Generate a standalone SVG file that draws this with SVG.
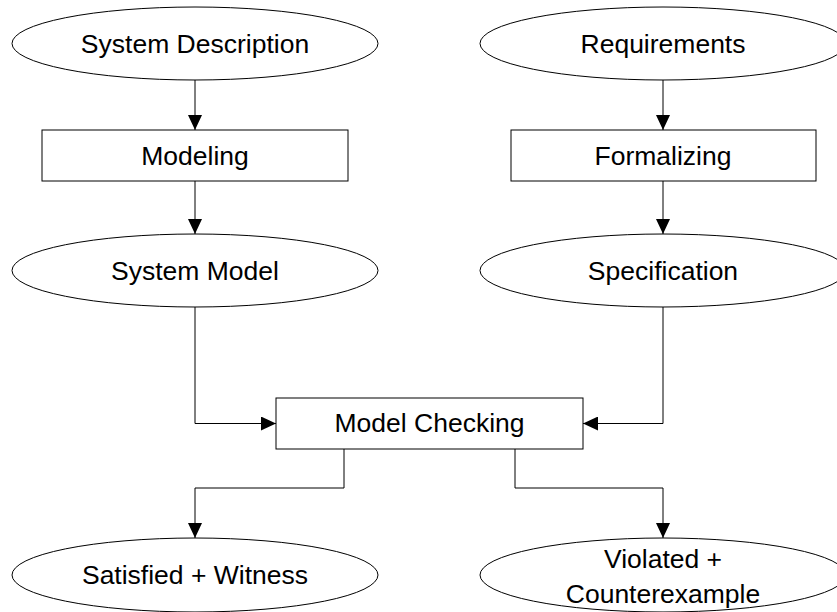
<svg xmlns="http://www.w3.org/2000/svg" width="837" height="612" viewBox="0 0 837 612">
  <style>
    .shape { fill: #ffffff; stroke: #000000; stroke-width: 1; }
    .label { font-family: "Liberation Sans", Arial, sans-serif; font-size: 26.5px; fill: #000000; text-anchor: middle; }
    .edge { fill: none; stroke: #000000; stroke-width: 1; }
  </style>
  <defs>
    <marker id="arrow" viewBox="0 0 15 14" refX="15" refY="7" markerWidth="15" markerHeight="14" markerUnits="userSpaceOnUse" orient="auto">
      <path d="M0,0 L15,7 L0,14 Z" fill="#000000"/>
    </marker>
  </defs>

  <rect width="837" height="612" fill="#ffffff"/>

  <!-- connectors -->
  <g id="connectors">
    <path class="edge" d="M195,80 L195,130" marker-end="url(#arrow)"/>
    <path class="edge" d="M195,181 L195,234" marker-end="url(#arrow)"/>
    <path class="edge" d="M663,80 L663,130" marker-end="url(#arrow)"/>
    <path class="edge" d="M663,181 L663,234" marker-end="url(#arrow)"/>
    <path class="edge" d="M195,307 L195,423.5 L276,423.5" marker-end="url(#arrow)"/>
    <path class="edge" d="M663,307 L663,423.5 L583,423.5" marker-end="url(#arrow)"/>
    <path class="edge" d="M344,449 L344,488 L195,488 L195,538" marker-end="url(#arrow)"/>
    <path class="edge" d="M515,449 L515,488 L663,488 L663,538" marker-end="url(#arrow)"/>
  </g>

  <!-- nodes -->
  <g id="system-description">
    <ellipse class="shape" cx="195" cy="43.5" rx="183" ry="36.5"/>
    <text class="label" x="195" y="53">System Description</text>
  </g>
  <g id="requirements">
    <ellipse class="shape" cx="663" cy="43.5" rx="183" ry="36.5"/>
    <text class="label" x="663" y="53">Requirements</text>
  </g>
  <g id="modeling">
    <rect class="shape" x="42" y="130" width="306" height="51"/>
    <text class="label" x="195" y="164.5">Modeling</text>
  </g>
  <g id="formalizing">
    <rect class="shape" x="511" y="130" width="305" height="51"/>
    <text class="label" x="663" y="164.5">Formalizing</text>
  </g>
  <g id="system-model">
    <ellipse class="shape" cx="195" cy="270.5" rx="183" ry="36.5"/>
    <text class="label" x="195" y="280">System Model</text>
  </g>
  <g id="specification">
    <ellipse class="shape" cx="663" cy="270.5" rx="183" ry="36.5"/>
    <text class="label" x="663" y="280">Specification</text>
  </g>
  <g id="model-checking">
    <rect class="shape" x="276" y="398" width="307" height="51"/>
    <text class="label" x="429.5" y="432">Model Checking</text>
  </g>
  <g id="satisfied">
    <ellipse class="shape" cx="195" cy="575" rx="183" ry="37"/>
    <text class="label" x="195" y="583.5">Satisfied + Witness</text>
  </g>
  <g id="violated">
    <ellipse class="shape" cx="663" cy="575" rx="183" ry="37"/>
    <text class="label" x="663" y="568">Violated +</text>
    <text class="label" x="663" y="602.5">Counterexample</text>
  </g>
</svg>
